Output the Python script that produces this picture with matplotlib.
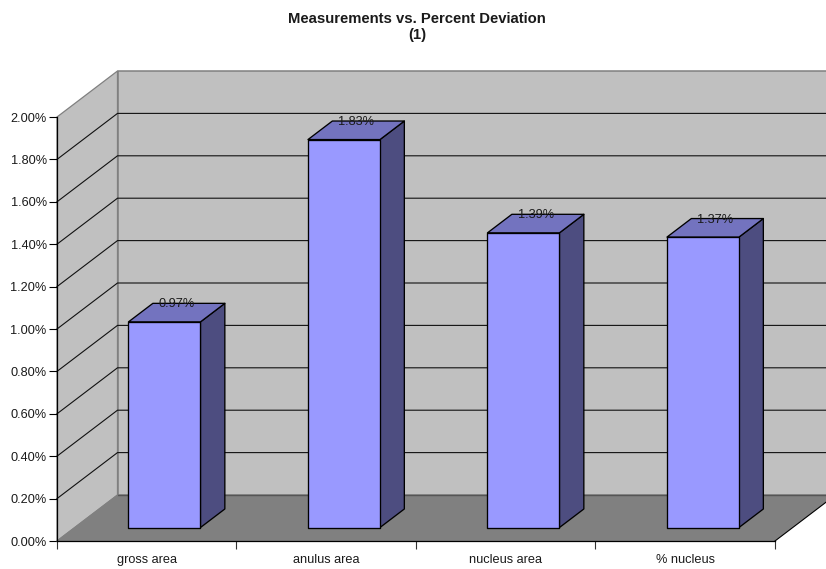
import matplotlib
matplotlib.use("Agg")
import matplotlib.pyplot as plt
from matplotlib.patches import Polygon
from matplotlib.ticker import FixedLocator, NullFormatter

plt.rcParams["font.family"] = ["Liberation Sans", "DejaVu Sans"]

# Chart content
title = "Measurements vs. Percent Deviation\n(1)"
categories = ["gross area", "anulus area", "nucleus area", "% nucleus"]
deviation = [0.97, 1.83, 1.39, 1.37]
y_ticks = [0.0, 0.2, 0.4, 0.6, 0.8, 1.0, 1.2, 1.4, 1.6, 1.8, 2.0]

# Colours of the 3-D box and columns
WALL = "#C0C0C0"
FLOOR = "#808080"
EDGE = "#808080"
FRONT = "#9999FF"
TOP = "#7373BF"
SIDE = "#4D4D80"
TEXT = "#1A1A1A"
LABEL_SIZE = 9.2

W, H = 826, 569
fig = plt.figure(figsize=(W / 100, H / 100), dpi=100, facecolor="white")
ax = fig.add_axes([57 / W, 1 - 541 / H, 718 / W, 424 / H], facecolor="none")
ymax = y_ticks[-1]
ncat = len(categories)
ax.set_xlim(0, ncat)
ax.set_ylim(0, ymax)

# One unit of depth moves a point this far along each data axis
DEPTH_X = 60.5 / 718 * ncat
DEPTH_Y = 46 / 424 * ymax


def project(x, v, d=0.0):
    return (x + d * DEPTH_X, v + d * DEPTH_Y)


def face(points, **kw):
    kw.setdefault("clip_on", False)
    ax.add_patch(Polygon([project(*p) for p in points], closed=True, **kw))


# Back wall, side wall and floor
face([(0, 0, 1), (ncat, 0, 1), (ncat, ymax, 1), (0, ymax, 1)],
     facecolor=WALL, edgecolor=EDGE, lw=1.1, zorder=1)
face([(0, 0, 0), (0, 0, 1), (0, ymax, 1), (0, ymax, 0)],
     facecolor=WALL, edgecolor=EDGE, lw=0.9, zorder=1)
face([(0, 0, 0), (ncat, 0, 0), (ncat, 0, 1), (0, 0, 1)],
     facecolor=FLOOR, edgecolor="none", zorder=1.5)

# Floor outline: dark along the back, black at the front and right
x0, y0 = project(0, 0, 1)
x1, y1 = project(ncat, 0, 1)
ax.plot([x0, x1], [y0, y1], color="#555555", lw=1.0, clip_on=False, zorder=1.6)
x0, y0 = project(0, 0, 0)
x1, y1 = project(0, 0, 1)
ax.plot([x0, x1], [y0, y1], color=EDGE, lw=0.8, clip_on=False, zorder=1.6)
x0, y0 = project(ncat, 0, 0)
x1, y1 = project(ncat, 0, 1)
ax.plot([x0, x1], [y0, y1], color="black", lw=0.8, clip_on=False, zorder=1.6)

# Gridlines run across the side wall and the back wall
for v in y_ticks[1:-1]:
    pts = [project(0, v, 0), project(0, v, 1), project(ncat, v, 1)]
    ax.plot(*zip(*pts), color="#111111", lw=0.8, clip_on=False, zorder=1.4,
            solid_joinstyle="miter")

# Columns
BAR_WIDTH = 0.401
D_FRONT, D_BACK = 0.293, 0.696
for i, value in enumerate(deviation):
    cx = i + 0.5
    xl, xr = cx - BAR_WIDTH / 2, cx + BAR_WIDTH / 2
    style = dict(edgecolor="black", lw=0.95, zorder=3, joinstyle="round")
    face([(xr, 0, D_FRONT), (xr, 0, D_BACK), (xr, value, D_BACK), (xr, value, D_FRONT)],
         facecolor=SIDE, **style)
    face([(xl, value, D_FRONT), (xr, value, D_FRONT), (xr, value, D_BACK), (xl, value, D_BACK)],
         facecolor=TOP, **style)
    face([(xl, 0, D_FRONT), (xr, 0, D_FRONT), (xr, value, D_FRONT), (xl, value, D_FRONT)],
         facecolor=FRONT, **style)
    lx, ly = project(cx, value, (D_FRONT + D_BACK) / 2)
    ax.annotate(f"{value:.2f}%", (lx, ly), xytext=(0, 1.6), textcoords="offset points",
                ha="center", va="bottom", fontsize=LABEL_SIZE, color=TEXT,
                zorder=4, annotation_clip=False)

# Axes, ticks and labels
for name in ("top", "right"):
    ax.spines[name].set_visible(False)
for name in ("left", "bottom"):
    ax.spines[name].set_color("black")
    ax.spines[name].set_linewidth(0.9)
    ax.spines[name].set_zorder(2)
ax.set_yticks(y_ticks)
ax.set_yticklabels([f"{v:.2f}%" for v in y_ticks], color=TEXT)
ax.tick_params(axis="y", length=5.8, width=0.8, pad=1.6, labelsize=LABEL_SIZE, color="black")
ax.xaxis.set_major_locator(FixedLocator(list(range(ncat + 1))))
ax.xaxis.set_major_formatter(NullFormatter())
ax.xaxis.set_minor_locator(FixedLocator([i + 0.5 for i in range(ncat)]))
ax.set_xticklabels(categories, minor=True, color=TEXT)
ax.tick_params(axis="x", which="major", length=5.8, width=0.8, color="#333333")
ax.tick_params(axis="x", which="minor", length=0, pad=9.5, labelsize=LABEL_SIZE)

fig.text(417 / W, 1 - 27 / H, title, ha="center", va="center", fontsize=10.7,
         fontweight="bold", color=TEXT, linespacing=1.25)

fig.savefig("out.png", dpi=100)
